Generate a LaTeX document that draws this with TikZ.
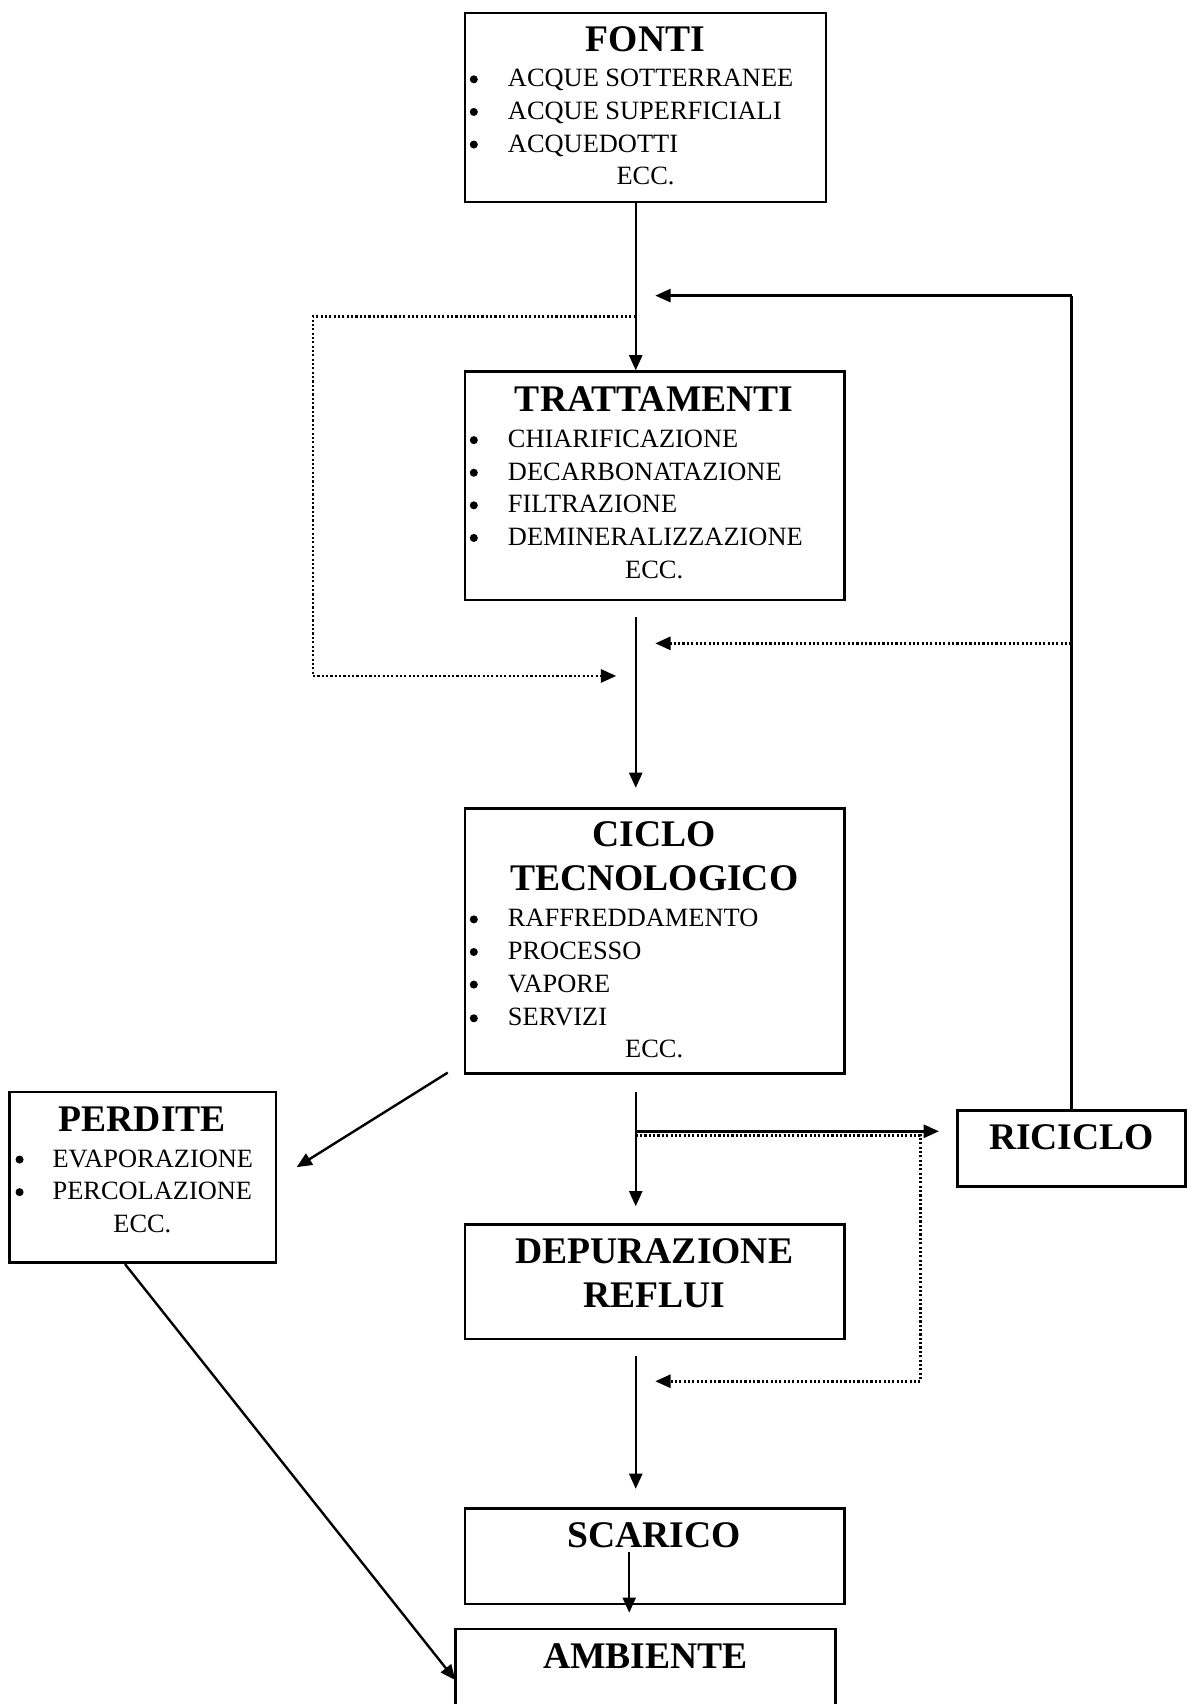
\documentclass[tikz,border=0pt]{standalone}
\usepackage{fontspec}
\setmainfont{Liberation Serif}
\usetikzlibrary{arrows.meta,fit}
\tikzset{
  x=0.5pt, y=-0.5pt,
  box/.style={draw, line width=1.2pt, inner sep=0pt},
  ttl/.style={font=\fontsize{17.3}{17}\selectfont\bfseries, inner sep=0pt, anchor=base},
  bdy/.style={font=\fontsize{12.15}{12}\selectfont, inner sep=0pt, anchor=base west},
  ctr/.style={font=\fontsize{12.15}{12}\selectfont, inner sep=0pt, anchor=base},
  bul/.style={circle, fill=black, inner sep=0pt, minimum size=3.7pt},
  arr/.style={line width=1.1pt, -{Triangle[length=7pt,width=6pt]}},
  ln/.style={line width=1.1pt},
  dot/.style={line width=1.2pt, dash pattern=on 1pt off 1pt},
  darr/.style={dot, -{Triangle[length=7pt,width=6pt]}},
}
\begin{document}
\begin{tikzpicture}
\useasboundingbox (0,0) rectangle (1099,1568);
\clip (0,0) rectangle (1099,1568);
\fill[white] (0,0) rectangle (1099,1568);

% ---------- boxes ----------
\node[box, fit={(428,12) (760,186)}] (fonti) {};
\node[box, fit={(428,342) (777,552)}] (tratt) {};
\node[box, fit={(428,744) (777,988)}] (ciclo) {};
\node[box, fit={(9,1005) (254,1162)}] (perdite) {};
\node[box, fit={(881,1022) (1091,1092)}] (riciclo) {};
\node[box, fit={(428,1127) (777,1232)}] (depur) {};
\node[box, fit={(428,1388) (777,1476)}] (scarico) {};
\node[box, fit={(419,1499) (769,1600)}] (ambiente) {};

% ---------- FONTI ----------
\node[ttl] (fT) at (594,47) {FONTI};
\node[bul] (fb1) at (436,73) {};
\node[bul] (fb2) at (436,103) {};
\node[bul] (fb3) at (436,133) {};
\node[bdy] (f1) at (467,80) {ACQUE SOTTERRANEE};
\node[bdy] (f2) at (467,110) {ACQUE SUPERFICIALI};
\node[bdy] (f3) at (467,140) {ACQUEDOTTI};
\node[ctr] (f4) at (594,170) {ECC.};

% ---------- TRATTAMENTI ----------
\node[ttl] (tT) at (602,379) {TRATTAMENTI};
\node[bul] (tb1) at (436,405) {};
\node[bul] (tb2) at (436,435) {};
\node[bul] (tb3) at (436,465) {};
\node[bul] (tb4) at (436,495) {};
\node[bdy] (t1) at (467,412) {CHIARIFICAZIONE};
\node[bdy] (t2) at (467,442) {DECARBONATAZIONE};
\node[bdy] (t3) at (467,472) {FILTRAZIONE};
\node[bdy] (t4) at (467,502) {DEMINERALIZZAZIONE};
\node[ctr] (t5) at (602,532) {ECC.};

% ---------- CICLO TECNOLOGICO ----------
\node[ttl] (cT1) at (602,779) {CICLO};
\node[ttl] (cT2) at (602,819) {TECNOLOGICO};
\node[bul] (cb1) at (436,846) {};
\node[bul] (cb2) at (436,876) {};
\node[bul] (cb3) at (436,906) {};
\node[bul] (cb4) at (436,937) {};
\node[bdy] (c1) at (467,853) {RAFFREDDAMENTO};
\node[bdy] (c2) at (467,883) {PROCESSO};
\node[bdy] (c3) at (467,913) {VAPORE};
\node[bdy] (c4) at (467,944) {SERVIZI};
\node[ctr] (c5) at (602,973) {ECC.};

% ---------- PERDITE ----------
\node[ttl] (pT) at (131,1041) {PERDITE};
\node[bul] (pb1) at (18,1067) {};
\node[bul] (pb2) at (18,1097) {};
\node[bdy] (p1) at (48,1074) {EVAPORAZIONE};
\node[bdy] (p2) at (48,1104) {PERCOLAZIONE};
\node[ctr] (p3) at (131,1134) {ECC.};

% ---------- others ----------
\node[ttl] (rT) at (986,1058) {RICICLO};
\node[ttl] (dT1) at (602,1163) {DEPURAZIONE};
\node[ttl] (dT2) at (602,1203) {REFLUI};
\node[ttl] (sT) at (602,1424) {SCARICO};
\node[ttl] (aT) at (594,1535) {AMBIENTE};

% ---------- coordinates ----------
\coordinate (col) at (585,0);
\coordinate (rcol) at (986,0);
\coordinate (pcol) at (115,0);
\coordinate (dsplit) at (585,291);
\coordinate (dl1) at (288,291);
\coordinate (dl2) at (288,622);
\coordinate (dlend) at (567,622);
\coordinate (rin1) at (603,272);
\coordinate (rin2src) at (986,592);
\coordinate (rin2) at (603,592);
\coordinate (m1a) at (585,568);
\coordinate (m1b) at (585,725);
\coordinate (pa) at (412,987);
\coordinate (pb) at (273,1074);
\coordinate (m2a) at (585,1005);
\coordinate (m2b) at (585,1110);
\coordinate (hsplit) at (585,1041);
\coordinate (hend) at (864,1041);
\coordinate (dsplit2) at (585,1045);
\coordinate (dr1) at (847,1045);
\coordinate (dr2) at (847,1271);
\coordinate (drend) at (603,1271);
\coordinate (m3a) at (585,1248);
\coordinate (m3b) at (585,1370);
\coordinate (s1) at (579,1428);
\coordinate (s2) at (579,1484);
\coordinate (am) at (419,1546);

% ---------- connectors ----------
\draw[arr] (fonti.south -| col) -- (tratt.north -| col);
\draw[ln] (riciclo.north) -- (rcol |- rin1);
\draw[arr] (rcol |- rin1) -- (rin1);
\draw[darr] (rin2src) -- (rin2);
\draw[darr] (dsplit) -- (dl1) -- (dl2) -- (dlend);
\draw[arr] (m1a) -- (m1b);
\draw[arr] (pa) -- (pb);
\draw[arr] (m2a) -- (m2b);
\draw[arr] (hsplit) -- (hend);
\draw[darr] (dsplit2) -- (dr1) -- (dr2) -- (drend);
\draw[arr] (m3a) -- (m3b);
\draw[arr] (s1) -- (s2);
\draw[arr] (perdite.south -| pcol) -- (am);
\end{tikzpicture}
\end{document}
